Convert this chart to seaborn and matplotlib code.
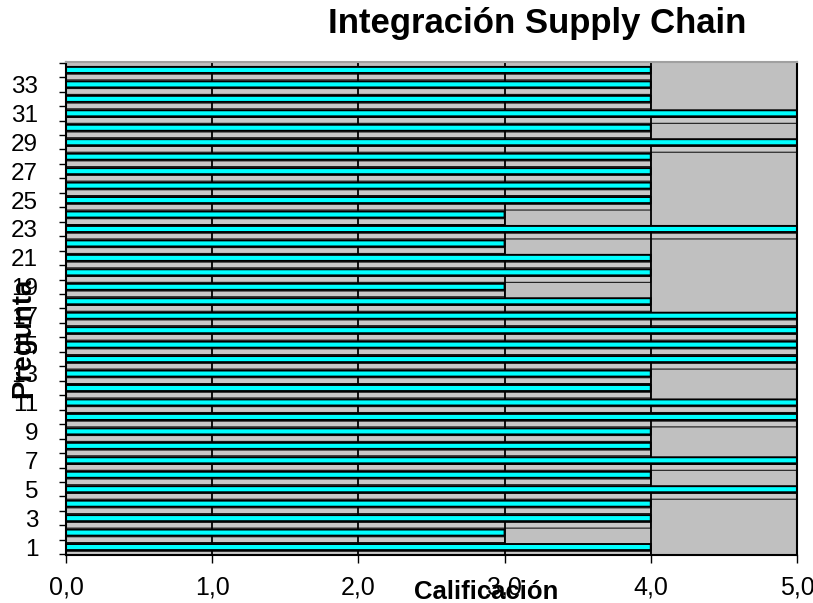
import matplotlib
matplotlib.use("Agg")
import matplotlib.pyplot as plt
from matplotlib.ticker import FixedLocator
import numpy as np
import pandas as pd
import seaborn as sns

# datos
preguntas = list(range(1, 35))
calificacion = [4, 3, 4, 4, 5, 4, 5, 4, 4, 5, 5, 4, 4, 5, 5, 5, 5, 4,
                3, 4, 4, 3, 5, 3, 4, 4, 4, 4, 5, 4, 5, 4, 4, 4]
x_ticks = [0, 1, 2, 3, 4, 5]
x_etiquetas = ["0,0", "1,0", "2,0", "3,0", "4,0", "5,0"]
y_ticks = list(range(1, 34, 2))

titulo = "Integración Supply Chain"
eje_x = "Calificación"
eje_y = "Pregunta"

sns.set_style("white")
plt.rcParams["font.family"] = ["Liberation Sans", "DejaVu Sans"]
plt.rcParams["text.color"] = "black"

t = pd.DataFrame({"pregunta": preguntas, "calificacion": calificacion})
t["sombra"] = t["pregunta"] - 0.49

fig = plt.figure(figsize=(8.13, 6.03), dpi=100)
ax = fig.add_axes([0.0812, 0.0796, 0.8991, 0.8176])
ax.set_facecolor("#C0C0C0")

# sombra 3D debajo de cada barra
sns.barplot(data=t, x="calificacion", y="sombra", orient="h", native_scale=True,
            width=0.40, color="#C8C8C8", edgecolor="black", linewidth=0.7,
            errorbar=None, saturation=1, ax=ax, zorder=1, snap=False)
sns.barplot(data=t, x="calificacion", y="pregunta", orient="h", native_scale=True,
            width=0.42, color="#00FFFF", edgecolor="black", linewidth=1.4,
            errorbar=None, saturation=1, ax=ax, zorder=2, snap=False)

ax.set_xlim(0, 5)
ax.set_ylim(0.45, 34.55)
ax.set_axisbelow("line")
ax.xaxis.grid(True, color="black", linewidth=1.3)
ax.yaxis.grid(False)

ax.set_xticks(x_ticks, labels=x_etiquetas, fontsize=18)
ax.set_yticks(y_ticks, labels=[str(v) for v in y_ticks], fontsize=17.5)
ax.yaxis.set_minor_locator(FixedLocator(np.arange(0.5, 35, 1.0)))
ax.tick_params(axis="x", which="major", length=6, width=1, color="black", pad=9,
               bottom=True, labelcolor="black")
ax.tick_params(axis="y", which="major", length=0, pad=20, left=True, labelcolor="black")
ax.tick_params(axis="y", which="minor", length=5, width=1, color="black", left=True)

for lado in ["left", "bottom", "right"]:
    ax.spines[lado].set_color("black")
    ax.spines[lado].set_linewidth(1.5)
ax.spines["top"].set_color("#A0A0A0")
ax.spines["top"].set_linewidth(1.5)

ax.set_xlabel("")
ax.set_ylabel("")
fig.text(0.661, 0.945, titulo, ha="center", va="baseline", fontsize=25, fontweight="bold")
fig.text(0.598, 0.007, eje_x, ha="center", va="baseline", fontsize=18.5, fontweight="bold")
fig.text(0.028, 0.44, eje_y, ha="center", va="center", rotation=90, fontsize=20, fontweight="bold")

fig.savefig("out.png", dpi=100)
